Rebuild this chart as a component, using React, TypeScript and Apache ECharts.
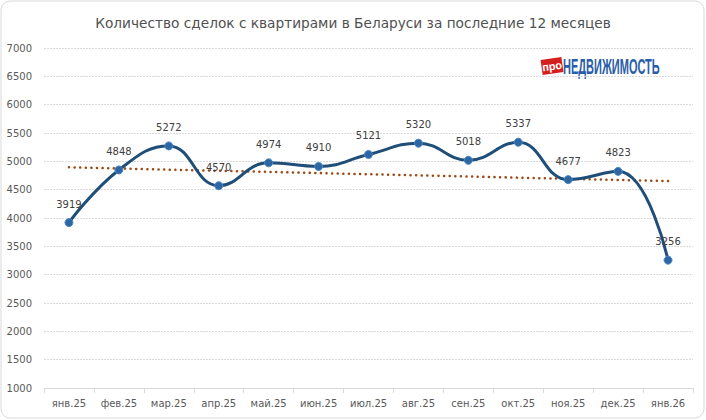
import React, { useEffect, useRef } from "react";
import * as echarts from "echarts";

const categories = ["янв.25", "фев.25", "мар.25", "апр.25", "май.25", "июн.25", "июл.25", "авг.25", "сен.25", "окт.25", "ноя.25", "дек.25", "янв.26"];
const deals = [3919, 4848, 5272, 4570, 4974, 4910, 5121, 5320, 5018, 5337, 4677, 4823, 3256];
const titleText = "Количество сделок с квартирами в Беларуси за последние 12 месяцев";
const yMin = 1000;
const yMax = 7000;
const yStep = 500;

function linearTrend(vals: number[]): number[] {
  const n = vals.length;
  const mx = (n - 1) / 2;
  const my = vals.reduce((a, b) => a + b, 0) / n;
  let sxy = 0;
  let sxx = 0;
  vals.forEach((v, i) => {
    sxy += (i - mx) * (v - my);
    sxx += (i - mx) * (i - mx);
  });
  const k = sxy / sxx;
  return vals.map((_, i) => my + k * (i - mx));
}

export default function App() {
  const ref = useRef<HTMLDivElement>(null);
  useEffect(() => {
    document.body.style.margin = "0";
    if (!ref.current) return;
    const chart = echarts.init(ref.current, null, { renderer: "svg" });
    const trend = linearTrend(deals);
    const font = "DejaVu Sans";
    chart.setOption({
      animation: false,
      backgroundColor: "#ffffff",
      title: {
        text: titleText,
        left: "center",
        top: 11,
        textStyle: { fontFamily: font, fontSize: 13.7, fontWeight: "normal", color: "#505050" },
      },
      grid: { left: 44, right: 13, top: 48, bottom: 32, containLabel: false },
      xAxis: {
        type: "category",
        data: categories,
        boundaryGap: true,
        axisLine: { lineStyle: { color: "#d9d9d9", width: 1 } },
        axisTick: { show: true, length: 5, lineStyle: { color: "#d9d9d9" } },
        axisLabel: { fontFamily: font, fontSize: 10, color: "#595959", margin: 10 },
        splitLine: { show: false },
      },
      yAxis: {
        type: "value",
        min: yMin,
        max: yMax,
        interval: yStep,
        axisLine: { show: false },
        axisTick: { show: false },
        axisLabel: {
          fontFamily: font,
          fontSize: 10,
          color: "#595959",
          margin: 12,
          formatter: (v: number) => String(v),
        },
        splitLine: { lineStyle: { color: "#d9d9d9", type: [2, 1], width: 1 } },
      },
      series: [
        {
          type: "line",
          data: trend,
          symbol: "none",
          smooth: false,
          lineStyle: { color: "#9a4a14", width: 2.5, type: [0.1, 5.5], cap: "round" },
          silent: true,
          z: 2,
        },
        {
          type: "line",
          data: deals,
          smooth: 0.45,
          symbol: "circle",
          symbolSize: 8,
          lineStyle: { color: "#1f4e79", width: 3 },
          itemStyle: { color: "#2c67a3", borderColor: "#4a86c5", borderWidth: 1 },
          label: {
            show: true,
            position: "top",
            distance: 9,
            fontFamily: font,
            fontSize: 10,
            color: "#404040",
          },
          z: 3,
        },
      ],
      graphic: [
        {
          type: "rect",
          shape: { x: 1, y: 1, width: 703, height: 417, r: 9 },
          style: { fill: "none", stroke: "#d9d9d9", lineWidth: 1 },
          silent: true,
          z: -1,
        },
        {
          type: "group",
          x: 541,
          y: 58,
          children: [
            {
              type: "rect",
              x: 11,
              y: 8,
              rotation: 0.14,
              shape: { x: -10.5, y: -7.5, width: 21, height: 15 },
              style: { fill: "#d3201f" },
            },
            {
              type: "text",
              x: 11,
              y: 8,
              rotation: 0.14,
              style: {
                text: "про",
                fill: "#ffffff",
                font: "bold 11px 'Liberation Sans'",
                align: "center",
                verticalAlign: "middle",
              },
            },
            {
              type: "text",
              x: 22,
              y: 8.5,
              scaleX: 0.5,
              style: {
                text: "НЕДВИЖИМОСТЬ",
                fill: "#2a5da8",
                font: "bold 22px 'Liberation Sans'",
                align: "left",
                verticalAlign: "middle",
              },
            },
          ],
        },
      ],
    });
    return () => chart.dispose();
  }, []);
  return <div ref={ref} style={{ width: 706, height: 420 }} />;
}
